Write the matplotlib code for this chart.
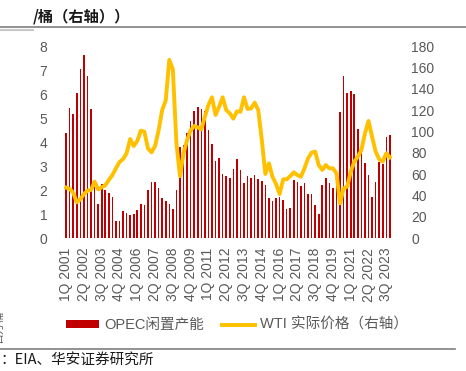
import matplotlib.pyplot as plt
import numpy as np
from matplotlib.lines import Line2D
from matplotlib.patches import Patch

plt.rcParams["font.family"] = ["Liberation Sans", "Noto Sans CJK SC", "DejaVu Sans"]

# quarterly, 1Q 2001 .. 4Q 2023
QUARTERS = [f"{q}Q {y}" for y in range(2001, 2024) for q in range(1, 5)]

# OPEC spare capacity (left axis, mb/d)
OPEC_SPARE = [
    4.39, 5.40, 5.17, 6.03, 7.04, 7.62, 6.76, 5.36, 2.14, 1.40,
    2.24, 2.00, 1.89, 1.69, 0.72, 0.69, 1.11, 1.06, 0.97, 1.01,
    1.15, 1.40, 1.38, 1.99, 2.32, 2.32, 2.08, 1.65, 1.53, 1.43,
    1.19, 1.99, 3.78, 3.86, 4.36, 4.86, 5.28, 5.46, 5.36, 5.31,
    4.50, 3.92, 3.21, 3.32, 2.67, 2.60, 2.50, 2.87, 3.29, 2.83,
    2.28, 2.58, 2.50, 2.62, 2.47, 2.37, 2.19, 1.65, 1.54, 1.67,
    1.69, 1.60, 1.22, 1.25, 2.40, 2.32, 2.17, 2.28, 1.85, 1.82,
    1.36, 0.99, 2.21, 2.49, 2.29, 2.08, 2.79, 5.24, 6.75, 6.04,
    6.14, 5.99, 4.54, 3.56, 3.13, 2.61, 1.69, 2.32, 3.17, 3.10,
    4.21, 4.28,
]

# WTI real price (right axis, $/bbl)
WTI_REAL = [
    47.2, 46.0, 42.5, 33.4, 36.3, 41.2, 44.4, 45.0, 52.8, 45.6,
    47.5, 49.4, 54.4, 59.0, 65.3, 71.2, 74.0, 79.4, 92.8, 86.2,
    91.0, 100.6, 99.7, 84.0, 80.3, 86.2, 101.0, 120.0, 129.0, 167.0,
    158.0, 88.8, 58.0, 79.4, 91.9, 101.0, 105.0, 103.7, 101.9, 113.7,
    124.7, 131.9, 115.3, 123.0, 131.9, 120.0, 116.9, 111.9, 118.7, 118.4,
    131.9, 121.0, 121.5, 126.9, 120.0, 91.9, 60.0, 70.0, 57.5, 50.6,
    41.2, 55.0, 55.0, 58.0, 61.6, 59.0, 57.5, 65.3, 74.7, 80.0,
    81.0, 68.4, 63.8, 68.4, 65.3, 65.3, 60.6, 32.5, 46.5, 48.1,
    62.2, 71.6, 76.2, 82.5, 98.1, 109.7, 95.0, 81.0, 73.8, 71.6,
    79.4, 75.6,
]

BAR_COLOR = "#C00000"
LINE_COLOR = "#FFC000"
TEXT_GRAY = "#595959"

W, H = 466, 371
fig = plt.figure(figsize=(W / 100, H / 100), dpi=100)
ax = fig.add_axes([64 / W, 1 - 238 / H, 328 / W, 192 / H])
ax2 = ax.twinx()

x = np.arange(len(QUARTERS))
ax.bar(x, OPEC_SPARE, width=0.45, color=BAR_COLOR, linewidth=0)
ax2.plot(x, WTI_REAL, color=LINE_COLOR, linewidth=2.8, solid_joinstyle="round")

ax.set_xlim(-0.6, len(QUARTERS) - 0.4)
ax.set_ylim(0, 8)
ax2.set_ylim(0, 180)
ax.set_yticks(range(0, 9))
ax2.set_yticks(range(0, 181, 20))
ax.set_xticks(x[::5])
ax.set_xticklabels(QUARTERS[::5], rotation=90)

for a in (ax, ax2):
    for s in a.spines.values():
        s.set_visible(False)
    a.tick_params(length=0, labelsize=10, labelcolor=TEXT_GRAY)
ax.tick_params(axis="y", pad=12)
ax.tick_params(axis="x", pad=7)
ax2.tick_params(axis="y", pad=14)

handles = [
    Patch(facecolor=BAR_COLOR, edgecolor="none"),
    Line2D([], [], color=LINE_COLOR, linewidth=2.8),
]
fig.legend(
    handles,
    ["OPEC闲置产能", "WTI 实际价格（右轴）"],
    loc="center",
    bbox_to_anchor=(237 / W, 1 - 325 / H),
    ncol=2,
    frameon=False,
    handlelength=2.3,
    handleheight=0.45,
    columnspacing=1.2,
    handletextpad=0.35,
    prop={"size": 10.5},
    labelcolor=TEXT_GRAY,
)

# header and footer
fig.text(33 / W, 1 - 16 / H, "/桶（右轴））", fontsize=11, fontweight="bold",
         color="#1a1a1a", va="center", family=["Noto Sans CJK SC"])
fig.add_artist(Line2D([0, 1], [1 - 27 / H] * 2, color="#7f7f7f", linewidth=1.2))
fig.add_artist(Line2D([0, 33 / W], [1 - 29.5 / H] * 2, color="#c8c8c8", linewidth=1.5))
fig.add_artist(Line2D([0, 455 / W], [1 - 349 / H] * 2, color="#7f7f7f", linewidth=1.2))
fig.text(0, 1 - 360 / H, "：EIA、华安证券研究所", fontsize=10.5, color="#1a1a1a",
         va="center", family=["Noto Sans CJK SC", "Liberation Sans"])
fig.text(-6 / W, 1 - 327 / H, "百万桶", fontsize=8, color=TEXT_GRAY, rotation=90,
         va="center", ha="left", family=["Noto Sans CJK SC"])

fig.savefig("out.png", dpi=100)
